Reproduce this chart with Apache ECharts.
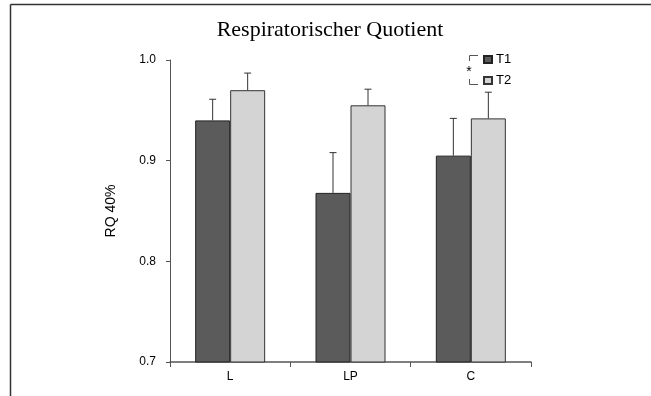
<!DOCTYPE html>
<html>
<head>
<meta charset="utf-8">
<script src="https://cdn.jsdelivr.net/npm/echarts@6/dist/echarts.min.js"></script>
<style>
html, body { margin: 0; padding: 0; background: #fff; }
#chart { width: 651px; height: 396px; }
</style>
</head>
<body>
<div id="chart"></div>
<script>
// data
var categories = ['L', 'LP', 'C'];
var t1Values = [0.940, 0.868, 0.905];
var t2Values = [0.970, 0.955, 0.942];
var t1ErrTop = [0.961, 0.908, 0.942];
var t2ErrTop = [0.987, 0.971, 0.968];
var yTicks = [0.7, 0.8, 0.9, 1.0];

var BAR_W = 35;

function errData(vals, tops) {
    return vals.map(function (v, i) { return [i, tops[i], v]; });
}

function errRender(side) {
    return function (params, api) {
        var top = api.coord([api.value(0), api.value(1)]);
        var base = api.coord([api.value(0), api.value(2)]);
        var x = top[0] + side * BAR_W / 2;
        var style = { stroke: '#333', lineWidth: 1 };
        return {
            type: 'group',
            children: [
                { type: 'line', shape: { x1: x, y1: base[1], x2: x, y2: top[1] }, style: style },
                { type: 'line', shape: { x1: x - 3.5, y1: top[1], x2: x + 3.5, y2: top[1] }, style: style }
            ]
        };
    };
}

var chart = echarts.init(document.getElementById('chart'));
var option = {
    animation: false,
    title: {
        text: 'Respiratorischer Quotient',
        left: 325,
        textAlign: 'center',
        top: 14,
        textStyle: { fontFamily: 'Liberation Serif', fontWeight: 'normal', fontSize: 22, color: '#000' }
    },
    legend: {
        orient: 'vertical',
        left: 478,
        top: 48,
        itemWidth: 8,
        itemHeight: 7,
        itemGap: 8,
        icon: 'rect',
        data: ['T1', 'T2'],
        textStyle: { fontFamily: 'Liberation Sans', fontSize: 13, color: '#000', padding: [0, 0, 0, -1] }
    },
    grid: { left: 170, right: 120, top: 60, bottom: 34 },
    xAxis: {
        type: 'category',
        data: categories,
        axisLine: { lineStyle: { color: '#555', width: 1.5 } },
        axisTick: { show: true, length: 5, lineStyle: { color: '#555' } },
        axisLabel: { fontFamily: 'Liberation Sans', fontSize: 12, color: '#000', margin: 9 }
    },
    yAxis: {
        type: 'value',
        min: 0.7,
        max: 1.0,
        interval: 0.1,
        name: 'RQ 40%',
        nameLocation: 'middle',
        nameGap: 52,
        nameTextStyle: { fontFamily: 'Liberation Sans', fontSize: 14, color: '#000' },
        axisLine: { show: true, lineStyle: { color: '#555', width: 1 } },
        axisTick: { show: true, length: 4, lineStyle: { color: '#555' } },
        splitLine: { show: false },
        axisLabel: {
            fontFamily: 'Liberation Sans', fontSize: 12, color: '#000', margin: 14,
            formatter: function (v) { return v.toFixed(1); }
        }
    },
    series: [
        {
            name: 'T1', type: 'bar', data: t1Values, barWidth: BAR_W, barGap: 0,
            itemStyle: { color: '#5b5b5b', borderColor: '#222', borderWidth: 1 }
        },
        {
            name: 'T2', type: 'bar', data: t2Values, barWidth: BAR_W, barGap: 0,
            itemStyle: { color: '#d4d4d4', borderColor: '#333', borderWidth: 1 }
        },
        {
            type: 'custom', data: errData(t1Values, t1ErrTop), renderItem: errRender(-1),
            encode: { x: 0, y: 1 }, z: 3
        },
        {
            type: 'custom', data: errData(t2Values, t2ErrTop), renderItem: errRender(1),
            encode: { x: 0, y: 1 }, z: 3
        }
    ],
    graphic: [
        // outer frame (top and left edges only)
        { type: 'line', shape: { x1: 10.5, y1: 4.5, x2: 651, y2: 4.5 }, style: { stroke: '#333', lineWidth: 1.5 } },
        { type: 'line', shape: { x1: 10.5, y1: 4.5, x2: 10.5, y2: 396 }, style: { stroke: '#333', lineWidth: 1.5 } },
        // significance bracket between legend entries
        { type: 'polyline', shape: { points: [[478, 55.5], [469.5, 55.5], [469.5, 61]] }, style: { stroke: '#555', lineWidth: 1, fill: null } },
        { type: 'polyline', shape: { points: [[469.5, 79], [469.5, 84.5], [478, 84.5]] }, style: { stroke: '#555', lineWidth: 1, fill: null } },
        { type: 'text', x: 469, y: 72, style: { text: '*', fontFamily: 'Liberation Sans', fontSize: 14, fill: '#000', align: 'center', verticalAlign: 'middle' } }
    ]
};
chart.setOption(option);
</script>
</body>
</html>
